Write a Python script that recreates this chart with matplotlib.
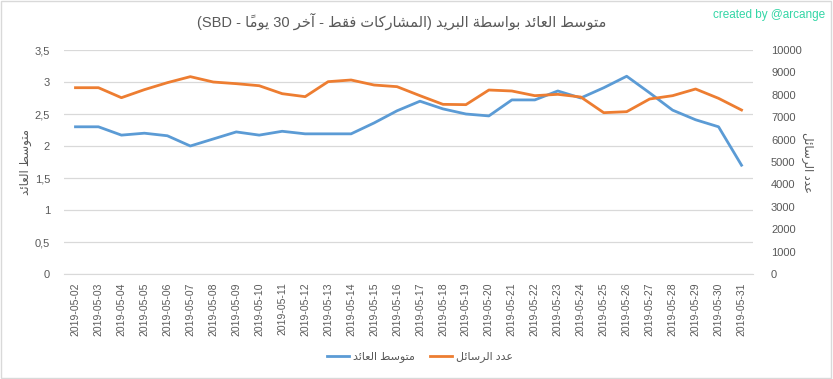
import matplotlib
matplotlib.use("Agg")
import matplotlib.pyplot as plt
from matplotlib.patches import Rectangle
from matplotlib.ticker import FixedLocator, FuncFormatter

plt.rcParams["font.family"] = ["Liberation Sans", "DejaVu Sans"]

# data
dates = ["2019-05-%02d" % d for d in range(2, 32)]
avg_reward = [2.30, 2.30, 2.17, 2.20, 2.16, 2.00, 2.11, 2.22, 2.17, 2.23,
              2.19, 2.19, 2.19, 2.36, 2.55, 2.70, 2.58, 2.50, 2.47, 2.72,
              2.72, 2.86, 2.75, 2.91, 3.09, 2.83, 2.56, 2.41, 2.30, 1.70]
msg_count = [8317, 8317, 7871, 8230, 8542, 8810, 8571, 8497, 8405, 8050,
             7917, 8586, 8661, 8437, 8363, 7961, 7574, 7560, 8214, 8170,
             7961, 8021, 7902, 7202, 7246, 7813, 7961, 8259, 7842, 7321]
left_ticks = [0, 0.5, 1, 1.5, 2, 2.5, 3, 3.5]
right_ticks = list(range(0, 10001, 1000))

# minimal arabic shaping (matplotlib does no complex text layout)
FORMS = {
    "ا": ("\uFE8D", "\uFE8E", None, None),
    "آ": ("\uFE81", "\uFE82", None, None),
    "ب": ("\uFE8F", "\uFE90", "\uFE91", "\uFE92"),
    "ة": ("\uFE93", "\uFE94", None, None),
    "ت": ("\uFE95", "\uFE96", "\uFE97", "\uFE98"),
    "خ": ("\uFEA5", "\uFEA6", "\uFEA7", "\uFEA8"),
    "د": ("\uFEA9", "\uFEAA", None, None),
    "ر": ("\uFEAD", "\uFEAE", None, None),
    "س": ("\uFEB1", "\uFEB2", "\uFEB3", "\uFEB4"),
    "ش": ("\uFEB5", "\uFEB6", "\uFEB7", "\uFEB8"),
    "ط": ("\uFEC1", "\uFEC2", "\uFEC3", "\uFEC4"),
    "ع": ("\uFEC9", "\uFECA", "\uFECB", "\uFECC"),
    "ف": ("\uFED1", "\uFED2", "\uFED3", "\uFED4"),
    "ق": ("\uFED5", "\uFED6", "\uFED7", "\uFED8"),
    "ك": ("\uFED9", "\uFEDA", "\uFEDB", "\uFEDC"),
    "ل": ("\uFEDD", "\uFEDE", "\uFEDF", "\uFEE0"),
    "م": ("\uFEE1", "\uFEE2", "\uFEE3", "\uFEE4"),
    "ن": ("\uFEE5", "\uFEE6", "\uFEE7", "\uFEE8"),
    "و": ("\uFEED", "\uFEEE", None, None),
    "ي": ("\uFEF1", "\uFEF2", "\uFEF3", "\uFEF4"),
    "ئ": ("\uFE89", "\uFE8A", "\uFE8B", "\uFE8C"),
}
MARKS = {"\u064B"}


def shape_word(word):
    chars = list(word)
    letters = [i for i, c in enumerate(chars) if c not in MARKS]
    out = {}
    for k, i in enumerate(letters):
        c = chars[i]
        if c not in FORMS:
            out[i] = c
            continue
        prev = chars[letters[k - 1]] if k > 0 else None
        nxt = chars[letters[k + 1]] if k + 1 < len(letters) else None
        join_prev = prev in FORMS and FORMS[prev][2] is not None
        join_next = FORMS[c][2] is not None and nxt in FORMS
        iso, fin, ini, med = FORMS[c]
        if join_prev and join_next:
            out[i] = med
        elif join_prev:
            out[i] = fin
        elif join_next:
            out[i] = ini
        else:
            out[i] = iso
    # clusters, reversed for visual order; the mark goes in front of its
    # base so that it lands over it when drawn left to right
    clusters = []
    for i, c in enumerate(chars):
        if c in MARKS and clusters:
            clusters[-1] = c + clusters[-1]
        else:
            clusters.append(out[i])
    return "".join(reversed(clusters))


def rtl(phrase):
    return " ".join(shape_word(w) for w in reversed(phrase.split(" ")))


title = ("(SBD - " + rtl("يومًا") + " 30 " + rtl("المشاركات فقط - آخر")
         + ") " + rtl("متوسط العائد بواسطة البريد"))
label_avg = rtl("متوسط العائد")
label_msg = rtl("عدد الرسائل")

grey = "#595959"
blue = "#5B9BD5"
orange = "#ED7D31"

fig = plt.figure(figsize=(8.33, 3.79), dpi=100)
ax = fig.add_axes([64 / 833, 1 - 274 / 379, 689 / 833, 224 / 379])
ax2 = ax.twinx()

x = list(range(len(dates)))
l1, = ax.plot(x, avg_reward, color=blue, lw=2, solid_joinstyle="round")
l2, = ax2.plot(x, msg_count, color=orange, lw=2, solid_joinstyle="round")

ax.set_xlim(-0.5, len(dates) - 0.5)
ax.set_ylim(0, 3.5)
ax2.set_ylim(0, 10000)
ax.yaxis.set_major_locator(FixedLocator(left_ticks))
ax.yaxis.set_major_formatter(FuncFormatter(lambda v, p: ("%g" % v).replace(".", ",")))
ax2.yaxis.set_major_locator(FixedLocator(right_ticks))
ax.set_xticks(x)
ax.set_xticklabels(dates, rotation=90)

ax.grid(axis="y", color="#D9D9D9", lw=0.9)
ax.set_axisbelow(True)
for a in (ax, ax2):
    for s in a.spines.values():
        s.set_visible(False)
    a.tick_params(length=0, colors=grey, labelsize=8)
ax.spines["bottom"].set_visible(True)
ax.spines["bottom"].set_color("#D9D9D9")
ax.tick_params(axis="y", pad=10)
ax.tick_params(axis="x", pad=6, labelsize=7.5)
ax2.tick_params(axis="y", pad=13)

ax.set_ylabel(label_avg, color=grey, fontsize=8.5, labelpad=2)
ax2.set_ylabel(label_msg, color=grey, fontsize=8.5, rotation=270, labelpad=8)

fig.text(0.482, 1 - 21 / 379, title, ha="center", va="center",
         fontsize=10.5, color=grey)
fig.text(0.99, 1 - 15 / 379, "created by @arcange", ha="right", va="center",
         fontsize=8.5, color="#33D6A6")

fig.legend([l1, l2], [label_avg, label_msg], loc="center",
           bbox_to_anchor=(420 / 833, 1 - 357 / 379), ncol=2, frameon=False,
           fontsize=8, labelcolor=grey, handlelength=2.0, handletextpad=0.3,
           columnspacing=1.4)

fig.patches.append(Rectangle((0.001, 0.002), 0.997, 0.995, transform=fig.transFigure,
                             fill=False, edgecolor="#D9D9D9", lw=1))

fig.savefig("out.png", dpi=100)
